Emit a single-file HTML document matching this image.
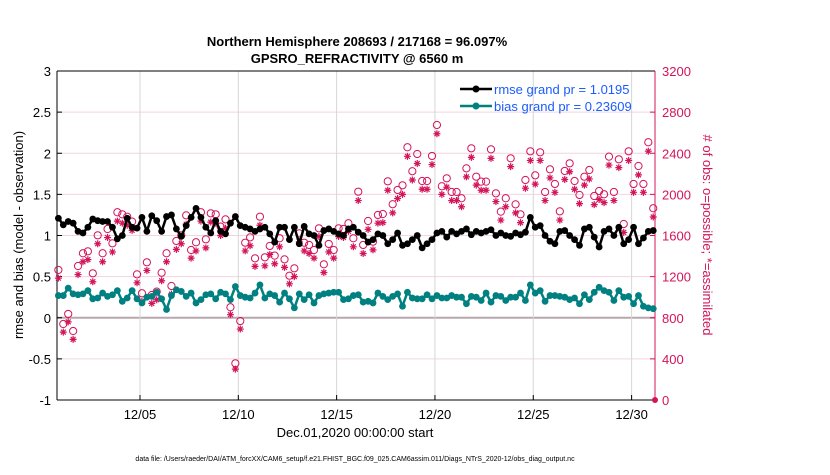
<!DOCTYPE html>
<html><head><meta charset="utf-8"><style>
body{margin:0;background:#fff;}
svg text{font-family:"Liberation Sans",Arial,sans-serif;}
</style></head><body>
<svg id="chart" width="830" height="470" viewBox="0 0 830 470" xmlns="http://www.w3.org/2000/svg">
<g id="grid"></g>
<g id="axes"></g>
<g id="obs"></g>
<g id="lines"></g>
<text x="357" y="46" text-anchor="middle" font-size="13" font-weight="bold">Northern Hemisphere 208693 / 217168 = 96.097%</text>
<text x="357" y="63" text-anchor="middle" font-size="13" font-weight="bold">GPSRO_REFRACTIVITY @ 6560 m</text>
<text transform="translate(23,235) rotate(-90)" text-anchor="middle" font-size="13">rmse and bias (model - observation)</text>
<text transform="translate(703,235) rotate(90)" text-anchor="middle" font-size="13" fill="#d4145a"># of obs: o=possible; *=assimilated</text>
<text x="355" y="437" text-anchor="middle" font-size="13">Dec.01,2020 00:00:00 start</text>
<text x="355" y="461" text-anchor="middle" font-size="7">data file: /Users/raeder/DAI/ATM_forcXX/CAM6_setup/f.e21.FHIST_BGC.f09_025.CAM6assim.011/Diags_NTrS_2020-12/obs_diag_output.nc</text>
<g>
<line x1="460" y1="89" x2="492" y2="89" stroke="#000" stroke-width="2.5"/>
<circle cx="476" cy="89" r="3.5" fill="#000"/>
<text x="494" y="94" font-size="13" fill="#1a5cff">rmse grand pr = 1.0195</text>
<line x1="460" y1="106" x2="492" y2="106" stroke="#008080" stroke-width="2.5"/>
<circle cx="476" cy="106" r="3.5" fill="#008080"/>
<text x="494" y="111" font-size="13" fill="#1a5cff">bias grand pr = 0.23609</text>
</g>
</svg>
<script>
const rmse=[1.21,1.13,1.17,1.15,1.05,1.03,1.10,1.20,1.18,1.17,
1.17,1.10,0.96,1.00,1.21,1.10,1.09,1.22,1.05,1.24,
1.18,1.05,1.23,1.25,1.08,0.99,1.12,1.22,1.33,1.22,
1.10,1.03,1.18,1.05,1.02,1.15,1.23,1.12,1.10,1.08,
1.05,1.08,1.10,1.02,0.92,1.10,1.10,0.95,1.10,0.90,
1.11,1.02,1.00,0.88,1.06,1.08,1.05,1.02,1.00,1.08,
1.10,1.04,1.00,0.92,0.95,1.02,1.00,0.90,0.95,1.03,
0.88,0.90,0.95,1.00,0.85,0.90,0.95,1.03,1.05,0.98,
1.05,1.02,1.05,1.08,1.01,1.05,1.03,1.05,1.07,1.00,
1.03,1.00,0.99,1.03,1.01,1.04,1.22,1.10,1.12,1.00,
0.93,0.90,1.05,1.06,1.00,0.95,0.88,1.08,1.10,0.98,
0.86,1.05,1.08,1.00,1.10,0.90,0.95,1.10,0.90,0.97,
1.05,1.06];
const bias=[0.27,0.27,0.36,0.29,0.28,0.29,0.33,0.23,0.24,0.30,
0.26,0.28,0.33,0.20,0.24,0.33,0.23,0.18,0.25,0.26,
0.31,0.23,0.10,0.27,0.34,0.32,0.26,0.30,0.18,0.22,
0.28,0.29,0.23,0.31,0.29,0.22,0.38,0.27,0.25,0.24,
0.30,0.40,0.24,0.29,0.27,0.19,0.30,0.23,0.12,0.29,
0.22,0.28,0.18,0.27,0.29,0.30,0.31,0.31,0.22,0.23,
0.27,0.28,0.19,0.20,0.18,0.30,0.26,0.22,0.26,0.29,
0.14,0.31,0.24,0.23,0.23,0.28,0.23,0.27,0.24,0.24,
0.27,0.25,0.25,0.17,0.26,0.25,0.21,0.30,0.19,0.27,
0.26,0.21,0.25,0.25,0.30,0.21,0.40,0.30,0.33,0.20,
0.27,0.27,0.26,0.25,0.22,0.24,0.17,0.28,0.22,0.31,
0.37,0.33,0.31,0.21,0.33,0.25,0.26,0.17,0.27,0.14,
0.12,0.11];
const possible=[1265,739,837,671,1303,1427,1446,1232,1602,1427,
1663,1524,1826,1806,1783,1735,1222,1038,1339,1021,
1054,1238,1427,1109,1547,1602,1796,1459,1534,1826,
1563,1816,1806,1686,1757,902,357,768,1530,1582,
1378,1783,
1388,1498,1404,1573,1368,1209,1281,1621,1530,1508,
1459,1670,1320,1518,1459,1670,1663,1719,1573,2026,
1508,1741,1540,1800,1809,2127,1904,2043,2088,2458,
2225,2393,2130,2130,2374,2675,2079,2156,2023,
2023,1962,2253,2448,2172,2124,2124,2438,2010,1832,
1962,2351,1903,1806,2140,2419,2185,2409,2023,2244,
2101,1835,2228,2302,2130,1994,2172,2237,1984,2033,
2001,2367,2023,2341,1712,2419,2101,2276,2101,2507,
1865];
const assimilated=[1185,660,760,590,1220,1345,1365,1150,1520,1345,
1580,1440,1740,1720,1700,1650,1140,960,1260,940,
975,1160,1345,1030,1465,1520,1710,1380,1450,1740,
1480,1730,1720,1600,1670,830,300,690,1450,1500,
1300,1700,
1305,1415,1325,1490,1290,1130,1200,1540,1450,1425,
1380,1590,1240,1440,1380,1590,1580,1640,1490,1940,
1425,1660,1460,1720,1725,2040,1820,1960,2000,2370,
2140,2300,2050,2050,2290,2590,2000,2070,1940,
1940,1880,2170,2360,2090,2040,2040,2350,1930,1750,
1880,2270,1820,1725,2060,2330,2100,2330,1940,2160,
2020,1750,2145,2220,2050,1910,2090,2150,1900,1950,
1920,2285,1940,2260,1630,2330,2020,2190,2020,2420,
1780];
const xTickDays=[4,9,14,19,24,29];
const xTickLabels=["12/05","12/10","12/15","12/20","12/25","12/30"];
const yTicks=[-1,-0.5,0,0.5,1,1.5,2,2.5,3];
const y2Ticks=[0,400,800,1200,1600,2000,2400,2800,3200];

const NS="http://www.w3.org/2000/svg";
const L=57,R=655,T=71,B=400;
const dayMin=-0.22,dayMax=30.19;
const X=d=>L+(d-dayMin)/(dayMax-dayMin)*(R-L);
const Y=v=>B-(v+1)/4*(B-T);
const Y2=n=>B-n/3200*(B-T);
const tOf=i=>-0.15+i*0.25;
function mk(tag,attrs,parent){const e=document.createElementNS(NS,tag);for(const k in attrs)e.setAttribute(k,attrs[k]);parent.appendChild(e);return e;}
const grid=document.getElementById('grid'),axes=document.getElementById('axes'),obs=document.getElementById('obs'),lines=document.getElementById('lines');
const PINK="#d4145a";

yTicks.forEach(v=>{
  const g=mk('line',{x1:L,x2:R,y1:Y(v),y2:Y(v),stroke:v===0?'#b8a8ae':'#f3d3df','stroke-width':v===0?2:1},grid);
  
  
  const t=mk('text',{x:L-6,y:Y(v)+5,'text-anchor':'end','font-size':13},axes);
  t.textContent=String(v);
  
  
  mk('line',{x1:L,x2:L+5,y1:Y(v),y2:Y(v),stroke:'#000'},axes);
});
xTickDays.forEach((d,k)=>{
  const g=mk('line',{x1:X(d),x2:X(d),y1:T,y2:B,stroke:'#d6d6d6','stroke-width':1},grid);
  
  
  mk('line',{x1:X(d),x2:X(d),y1:B,y2:B-5,stroke:'#000'},axes);
  const t=mk('text',{x:X(d),y:B+19,'text-anchor':'middle','font-size':13},axes);
  t.textContent=xTickLabels[k];
  
  
});
y2Ticks.forEach(n=>{
  mk('line',{x1:R,x2:R-5,y1:Y2(n),y2:Y2(n),stroke:PINK},axes);
  const t=mk('text',{x:R+7,y:Y2(n)+5,'font-size':13,fill:PINK},axes);
  t.textContent=String(n);
  
  
});
mk('line',{x1:L,x2:L,y1:T,y2:B,stroke:'#000'},axes);
mk('line',{x1:L,x2:R,y1:B,y2:B,stroke:'#000'},axes);
mk('line',{x1:L,x2:R,y1:T,y2:T,stroke:'#000'},axes);
mk('line',{x1:R,x2:R,y1:T,y2:B,stroke:PINK},axes);
mk('circle',{cx:R,cy:B,r:3,fill:PINK},axes);

function star(cx,cy,g){
  const s=3.5;
  const d=`M${cx-s},${cy}H${cx+s}M${cx},${cy-s}V${cy+s}M${cx-s*0.7},${cy-s*0.7}L${cx+s*0.7},${cy+s*0.7}M${cx-s*0.7},${cy+s*0.7}L${cx+s*0.7},${cy-s*0.7}`;
  return mk('path',{d:d,stroke:PINK,'stroke-width':1.2,fill:'none'},g);
}
function series(vals,color,name){
  const pts=vals.map((v,i)=>X(tOf(i)).toFixed(1)+','+Y(v).toFixed(1)).join(' ');
  const p=mk('polyline',{points:pts,fill:'none',stroke:color,'stroke-width':2.5,'stroke-linejoin':'round'},lines);
  
  
  vals.forEach((v,i)=>{
    const c=mk('circle',{cx:X(tOf(i)),cy:Y(v),r:3.4,fill:color},lines);
    
    
  });
}
series(bias,'#008080','bias');
series(rmse,'#000','rmse');
possible.forEach((n,i)=>{
  const c=mk('circle',{cx:X(tOf(i)),cy:Y2(n),r:3.6,fill:'none',stroke:PINK,'stroke-width':1},obs);
  
  
});
assimilated.forEach((n,i)=>{
  const s=star(X(tOf(i)),Y2(n),obs);
  
  
});
</script>
</body></html>
